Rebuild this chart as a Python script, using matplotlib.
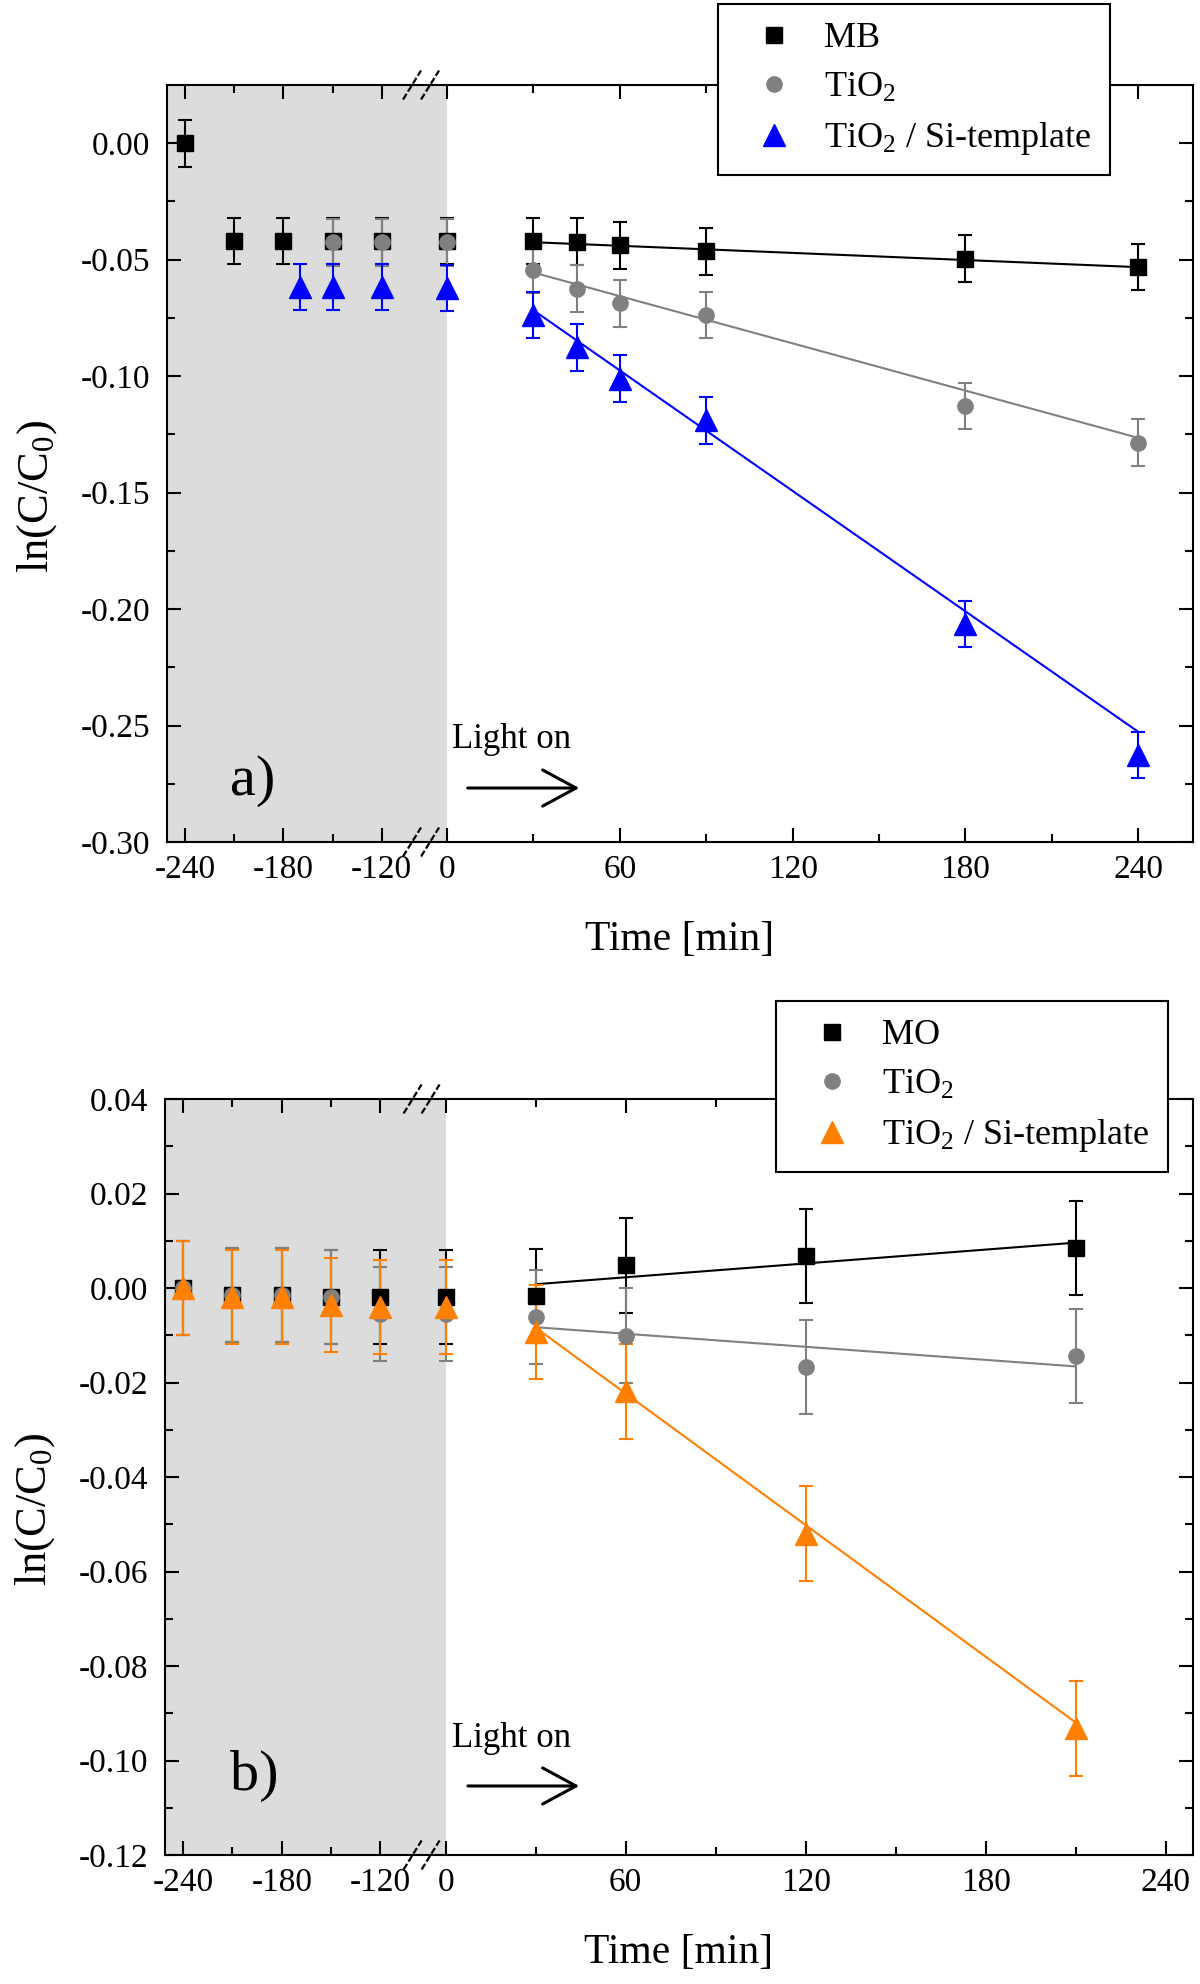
import numpy as np
import matplotlib
matplotlib.use('Agg')
import matplotlib.pyplot as plt

plt.rcParams['font.family'] = ['Liberation Serif', 'DejaVu Serif']
plt.rcParams['mathtext.fontset'] = 'custom'
plt.rcParams['mathtext.rm'] = 'Liberation Serif'
plt.rcParams['mathtext.default'] = 'regular'
plt.rcParams['axes.unicode_minus'] = False

# ---------------- panel a) : MB ----------------
t_mb_a = [-240, -210, -180, -150, -120, 0, 30, 45, 60, 90, 180, 240]
mb_a = [0.000, -0.042, -0.042, -0.042, -0.042, -0.042, -0.0419, -0.0423, -0.0438, -0.0464, -0.0495, -0.0531]
err_mb_a = [0.01, 0.01, 0.01, 0.01, 0.01, 0.01, 0.01, 0.01, 0.01, 0.01, 0.01, 0.01]

t_tio2_a = [-150, -120, 0, 30, 45, 60, 90, 180, 240]
tio2_a = [-0.0425, -0.0425, -0.0426, -0.0545, -0.0624, -0.0688, -0.0737, -0.1129, -0.1286]
err_tio2_a = [0.01, 0.01, 0.01, 0.01, 0.01, 0.01, 0.01, 0.01, 0.01]

t_si_a = [-170, -150, -120, 0, 30, 45, 60, 90, 180, 240]
si_a = [-0.0617, -0.0617, -0.0617, -0.0622, -0.0737, -0.0876, -0.1011, -0.1190, -0.2064, -0.2627]
err_si_a = [0.01, 0.01, 0.01, 0.01, 0.01, 0.01, 0.01, 0.01, 0.01, 0.01]

# linear fits drawn in the figure (end points)
fit_t_a = [30, 240]
fit_mb_a = [-0.0425, -0.0532]
fit_tio2_a = [-0.0555, -0.1265]
fit_si_a = [-0.0717, -0.2527]

# ---------------- panel b) : MO ----------------
t_b = [-240, -210, -180, -150, -120, 0, 30, 60, 120, 210]
mo_b = [0.000, -0.0015, -0.0015, -0.0019, -0.0019, -0.0019, -0.0017, 0.0048, 0.0068, 0.0085]
tio2_b = [0.000, -0.0015, -0.0015, -0.0019, -0.0055, -0.0055, -0.0061, -0.0101, -0.0167, -0.0144]
si_b = [0.000, -0.0019, -0.0019, -0.0036, -0.0040, -0.0040, -0.0093, -0.0219, -0.0520, -0.0932]
err_b = [0.01, 0.01, 0.01, 0.01, 0.01, 0.01, 0.01, 0.01, 0.01, 0.01]

fit_t_b = [30, 210]
fit_mo_b = [0.0008, 0.0096]
fit_tio2_b = [-0.0083, -0.0166]
fit_si_b = [-0.0084, -0.0920]

# ticks
xmajor = [-240, -180, -120, 0, 60, 120, 180, 240]
xminor = [-210, -150, 30, 90, 150, 210]
ymajor_a = [0.00, -0.05, -0.10, -0.15, -0.20, -0.25, -0.30]
yminor_a = [-0.025, -0.075, -0.125, -0.175, -0.225, -0.275]
ymajor_b = [0.04, 0.02, 0.00, -0.02, -0.04, -0.06, -0.08, -0.10, -0.12]
yminor_b = [0.03, 0.01, -0.01, -0.03, -0.05, -0.07, -0.09, -0.11]

GRAY = '#808080'
SHADE = '#dcdcdc'


def broken_scale(b1, b2, ratio):
    # left part compressed by 'ratio', gap (b1, b2) squeezed to nothing
    eps = 1e-4
    gap = (b2 - b1) * eps

    def fwd(x):
        x = np.asarray(x, dtype=float)
        return np.where(x <= b1, (x - b1) * ratio,
                        np.where(x >= b2, gap + (x - b2), (x - b1) * eps))

    def inv(y):
        y = np.asarray(y, dtype=float)
        return np.where(y <= 0, b1 + y / ratio,
                        np.where(y >= gap, b2 + (y - gap), b1 + y / eps))
    return fwd, inv


def setup_axis(ax, xlim, b1, b2, ratio, ylim, ymaj, ymin):
    ax.set_xscale('function', functions=broken_scale(b1, b2, ratio))
    ax.set_xlim(*xlim)
    ax.set_ylim(*ylim)
    ax.axvspan(xlim[0], 0, color=SHADE, zorder=0, lw=0)
    ax.set_xticks(xmajor)
    ax.set_xticklabels([str(t) for t in xmajor])
    ax.set_xticks(xminor, minor=True)
    ax.set_yticks(ymaj)
    ax.set_yticklabels(['%.2f' % v for v in ymaj])
    ax.set_yticks(ymin, minor=True)
    ax.tick_params(which='both', direction='in', top=True, right=True, width=1.5)
    ax.tick_params(which='major', length=10, labelsize=24)
    ax.tick_params(which='minor', length=6)
    ax.tick_params(axis='x', which='major', pad=9)
    ax.tick_params(axis='y', which='major', pad=12)
    for s in ax.spines.values():
        s.set_linewidth(1.5)
    ax.set_xlabel('Time [min]', fontsize=30)
    ax.set_ylabel(r'ln(C/C$_0$)', fontsize=32)
    ax.xaxis.set_label_coords(0.5, -0.104)
    ax.yaxis.set_label_coords(-0.105, 0.457)

    # break marks "//" on the top and bottom spines
    xb_pix = ax.transData.transform([[b1, ylim[0]]])[0][0]
    xa = ax.transAxes.inverted().transform([[xb_pix, 0]])[0][0]
    bb = ax.get_window_extent()
    dx = 9.0 / bb.width
    dy = 14.5 / bb.height
    for ya in (0.0, 1.0):
        for off in (-9.0 / bb.width, 9.0 / bb.width):
            ax.plot([xa + off - dx, xa + off + dx], [ya - dy, ya + dy],
                    transform=ax.transAxes, color='k', lw=1.6,
                    linestyle=(0, (3, 1.2)), clip_on=False, zorder=5)


def draw_series(ax, t, v, e, marker, ms, color):
    eb = ax.errorbar(t, v, yerr=e, fmt=marker, ms=ms, color=color, mec=color,
                     ecolor=color, elinewidth=1.5, capsize=5, capthick=1.5)
    return eb[0]


def add_legend(ax, handles, labels, anchor):
    leg = ax.legend(handles, labels, loc='upper left', bbox_to_anchor=anchor,
                    borderaxespad=0, fontsize=26, frameon=True, fancybox=False,
                    edgecolor='k', framealpha=1, borderpad=0.5, handlelength=2.1,
                    handletextpad=0.35, labelspacing=0.44)
    leg.get_frame().set_linewidth(1.5)


fig = plt.figure(figsize=(12, 19.84), dpi=100)
ax_a = fig.add_axes([167 / 1200, 1 - 842 / 1984, 1026 / 1200, 757 / 1984])
ax_b = fig.add_axes([165 / 1200, 1 - 1855 / 1984, 1028 / 1200, 756 / 1984])

# ---- panel a
setup_axis(ax_a, (-251, 259), -96, -9, 0.569, (-0.30, 0.025), ymajor_a, yminor_a)
ax_a.plot(fit_t_a, fit_mb_a, color='k', lw=1.5, zorder=1.5)
ax_a.plot(fit_t_a, fit_tio2_a, color=GRAY, lw=1.5, zorder=1.5)
ax_a.plot(fit_t_a, fit_si_a, color='#0000ff', lw=1.5, zorder=1.5)
h1 = draw_series(ax_a, t_mb_a, mb_a, err_mb_a, 's', 11, 'k')
h2 = draw_series(ax_a, t_tio2_a, tio2_a, err_tio2_a, 'o', 11, GRAY)
h3 = draw_series(ax_a, t_si_a, si_a, err_si_a, '^', 16, '#0000ff')
add_legend(ax_a, [h1, h2, h3], ['MB', r'TiO$_2$', r'TiO$_2$ / Si-template'], (0.537, 1.107))
ax_a.text(0.278, 0.124, 'Light on', transform=ax_a.transAxes, fontsize=25, va='baseline')
ax_a.annotate('', xy=(0.4045, 0.0713), xytext=(0.2904, 0.0713), xycoords='axes fraction',
              arrowprops=dict(arrowstyle='->,head_length=1.2,head_width=0.65',
                              mutation_scale=20, lw=2.2, color='k'))
ax_a.text(0.0614, 0.062, 'a)', transform=ax_a.transAxes, fontsize=42, va='baseline')

# ---- panel b
setup_axis(ax_b, (-251, 249), -95, -8, 0.548, (-0.12, 0.04), ymajor_b, yminor_b)
ax_b.plot(fit_t_b, fit_mo_b, color='k', lw=1.5, zorder=1.5)
ax_b.plot(fit_t_b, fit_tio2_b, color=GRAY, lw=1.5, zorder=1.5)
ax_b.plot(fit_t_b, fit_si_b, color='#ff8000', lw=1.5, zorder=1.5)
g1 = draw_series(ax_b, t_b, mo_b, err_b, 's', 11, 'k')
g2 = draw_series(ax_b, t_b, tio2_b, err_b, 'o', 11, GRAY)
g3 = draw_series(ax_b, t_b, si_b, err_b, '^', 16, '#ff8000')
add_legend(ax_b, [g1, g2, g3], ['MO', r'TiO$_2$', r'TiO$_2$ / Si-template'], (0.594, 1.1296))
ax_b.text(0.279, 0.143, 'Light on', transform=ax_b.transAxes, fontsize=25, va='baseline')
ax_b.annotate('', xy=(0.4056, 0.0913), xytext=(0.292, 0.0913), xycoords='axes fraction',
              arrowprops=dict(arrowstyle='->,head_length=1.2,head_width=0.65',
                              mutation_scale=20, lw=2.2, color='k'))
ax_b.text(0.063, 0.086, 'b)', transform=ax_b.transAxes, fontsize=42, va='baseline')

fig.savefig('out.png', dpi=100)
